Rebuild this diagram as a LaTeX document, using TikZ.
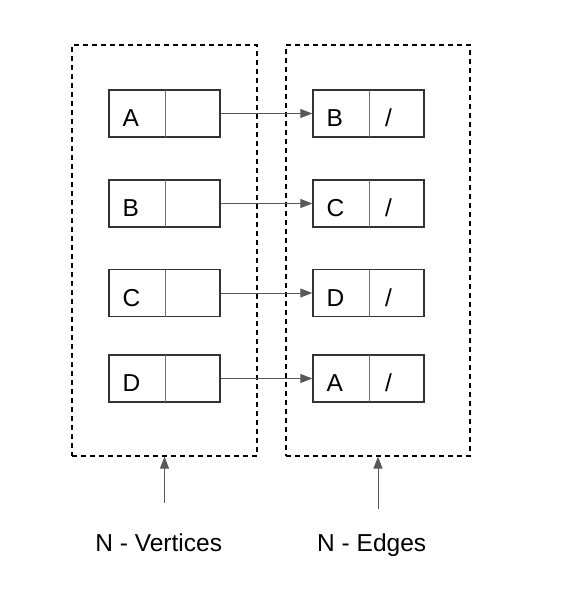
\documentclass[tikz,border=0pt]{standalone}
\usepackage{fontspec}
\setmainfont{Liberation Sans}
\usetikzlibrary{arrows.meta}
\definecolor{boxline}{HTML}{333333}
\definecolor{divline}{HTML}{707070}
\definecolor{arrline}{HTML}{595959}
\begin{document}
\begin{tikzpicture}[x=1pt,y=-1pt,
  group/.style={draw=black,line width=1.2pt,dash pattern=on 5pt off 4pt,minimum width=185pt,minimum height=411pt,inner sep=0pt},
  record/.style={draw=boxline,line width=1.4pt,minimum width=111pt,minimum height=47pt,inner sep=0pt},
  divider/.style={draw=divline,line width=1pt},
  keytext/.style={font=\fontsize{24.5}{28}\selectfont,anchor=base west,inner sep=0pt},
  ptrtext/.style={font=\fontsize{24.5}{28}\selectfont,anchor=base,inner sep=0pt},
  label/.style={font=\fontsize{24.5}{28}\selectfont,anchor=base,inner sep=0pt},
  link/.style={draw=arrline,line width=1pt,-{Triangle[length=12pt,width=9pt]}},
]
\useasboundingbox (0,0) rectangle (561,594);
\node[group] (V) at (164.5,250.5) {};
\node[group,minimum width=184pt] (E) at (378,250.5) {};
% records
\foreach \i/\y/\l/\r in {1/113.5/A/B,2/203.5/B/C,3/293/C/D,4/378.5/D/A}{
  \node[record] (L\i) at (164.5,\y) {};
  \node[record] (R\i) at (368.5,\y) {};
  \coordinate (Ldt\i) at (165,\y-23.5);
  \coordinate (Ldb\i) at (165,\y+23.5);
  \coordinate (Rdt\i) at (369,\y-23.5);
  \coordinate (Rdb\i) at (369,\y+23.5);
  \draw[divider] (Ldt\i) -- (Ldb\i);
  \draw[divider] (Rdt\i) -- (Rdb\i);
  \node[keytext] (Lk\i) at (122.5,\y+13.2) {\l};
  \node[keytext] (Rk\i) at (326.5,\y+13.2) {\r};
  \node[ptrtext] (Rp\i) at (388.5,\y+13.2) {/};
  \draw[link] (L\i.east) -- (R\i.west);
}
\coordinate (Vs) at (164.5,503);
\coordinate (Es) at (378,509);
\draw[link] (Vs) -- (V.south);
\draw[link] (Es) -- (E.south);
\node[label] (VL) at (158.7,551.5) {N - Vertices};
\node[label] (EL) at (371.7,551.5) {N - Edges};
\end{tikzpicture}
\end{document}
